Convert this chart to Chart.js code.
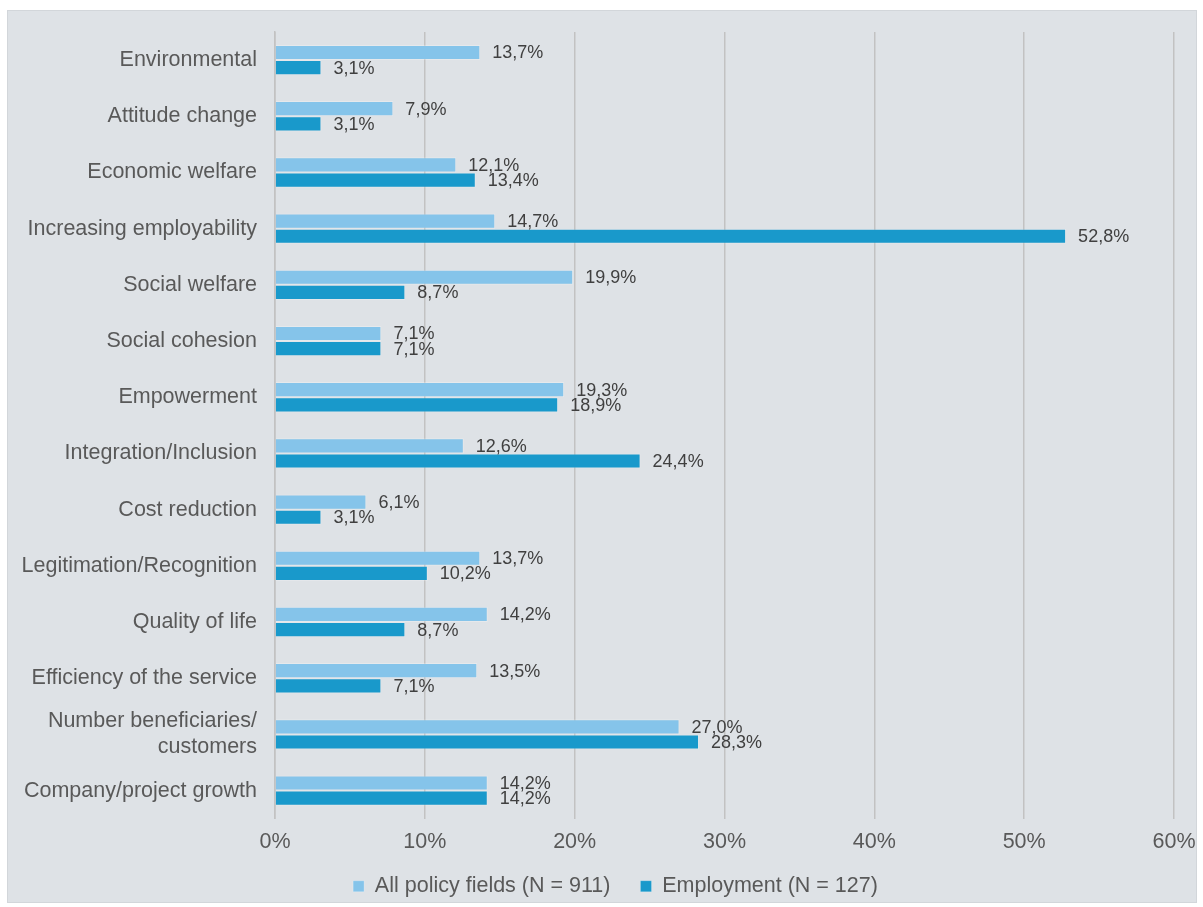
<!DOCTYPE html>
<html>
<head>
<meta charset="utf-8">
<script src="https://cdn.jsdelivr.net/npm/chart.js@4"></script>
<style>
  html, body { margin: 0; padding: 0; background: #ffffff; }
  #frame {
    position: absolute; left: 7px; top: 10px;
    width: 1190px; height: 893px;
    background: #dee2e6;
    box-shadow: inset 0 0 0 1px #d2d6da;
  }
  #chart { display: block; }
</style>
</head>
<body>
<div id="frame"><canvas id="chart" width="1190" height="893"></canvas></div>
<script>
const categories = [
  'Environmental',
  'Attitude change',
  'Economic welfare',
  'Increasing employability',
  'Social welfare',
  'Social cohesion',
  'Empowerment',
  'Integration/Inclusion',
  'Cost reduction',
  'Legitimation/Recognition',
  'Quality of life',
  'Efficiency of the service',
  ['Number beneficiaries/', 'customers'],
  'Company/project growth'
];
const allPolicyFields = [13.7, 7.9, 12.1, 14.7, 19.9, 7.1, 19.3, 12.6, 6.1, 13.7, 14.2, 13.5, 27.0, 14.2];
const employment      = [3.1, 3.1, 13.4, 52.8, 8.7, 7.1, 18.9, 24.4, 3.1, 10.2, 8.7, 7.1, 28.3, 14.2];
const seriesNames = ['All policy fields (N = 911)', 'Employment (N = 127)'];
const xTicks = [0, 10, 20, 30, 40, 50, 60];

const FONT = '"Liberation Sans", Arial, sans-serif';
const TEXT = '#595959';

const fmt = v => v.toFixed(1).replace('.', ',') + '%';

// Value labels to the right of each bar
const valueLabels = {
  id: 'valueLabels',
  afterDatasetsDraw(chart) {
    const ctx = chart.ctx;
    ctx.save();
    ctx.font = '18px ' + FONT;
    ctx.fillStyle = '#404040';
    ctx.textAlign = 'left';
    ctx.textBaseline = 'middle';
    chart.data.datasets.forEach((ds, i) => {
      const meta = chart.getDatasetMeta(i);
      meta.data.forEach((bar, j) => {
        ctx.fillText(fmt(ds.data[j]), bar.x + 12, bar.y + 1);
      });
    });
    ctx.restore();
  }
};

// Centre the legend under the plot area rather than the whole canvas
const legendShift = {
  id: 'legendShift',
  afterLayout(chart) {
    const lg = chart.legend;
    if (!lg) return;
    const dx = 21;
    lg.left += dx;
    lg.right += dx;
    if (lg.legendHitBoxes) lg.legendHitBoxes.forEach(b => { b.left += dx; });
  }
};

new Chart(document.getElementById('chart'), {
  type: 'bar',
  data: {
    labels: categories,
    datasets: [
      {
        label: seriesNames[0],
        data: allPolicyFields,
        backgroundColor: '#85c4ea',
        borderColor: 'rgba(255,255,255,0.25)',
        borderWidth: 1,
        barPercentage: 1,
        categoryPercentage: 0.54
      },
      {
        label: seriesNames[1],
        data: employment,
        backgroundColor: '#1999cb',
        borderColor: 'rgba(255,255,255,0.2)',
        borderWidth: 1,
        barPercentage: 1,
        categoryPercentage: 0.54
      }
    ]
  },
  options: {
    indexAxis: 'y',
    responsive: false,
    animation: false,
    devicePixelRatio: 1,
    layout: { padding: { left: 8, right: 23, top: 22, bottom: -4 } },
    scales: {
      x: {
        min: xTicks[0],
        max: xTicks[xTicks.length - 1],
        afterBuildTicks(scale) { scale.ticks = xTicks.map(v => ({ value: v })); },
        afterFit(scale) {
          scale.height -= 19;
          scale.paddingLeft = 0;
          scale.paddingRight = 0;
          // tick labels may hang below the trimmed axis box
          scale._computeLabelArea = () => undefined;
        },
        grid: { color: '#c2c2c2', lineWidth: 1.5, drawTicks: false },
        border: { display: false },
        ticks: {
          callback: v => v + '%',
          color: TEXT,
          font: { family: FONT, size: 21.5 },
          padding: 10
        }
      },
      y: {
        afterFit(scale) {
          scale.width = 260;
          scale.paddingTop = 0;
          scale.paddingBottom = 0;
        },
        grid: { display: false, drawTicks: false },
        border: { display: true, color: '#c2c2c2', width: 1.5 },
        ticks: {
          color: TEXT,
          font: { family: FONT, size: 21.5 },
          padding: 18
        }
      }
    },
    plugins: {
      legend: {
        position: 'bottom',
        labels: {
          boxWidth: 11,
          boxHeight: 11,
          color: TEXT,
          font: { family: FONT, size: 21.5 },
          padding: 30
        }
      },
      tooltip: { enabled: false }
    }
  },
  plugins: [valueLabels, legendShift]
});
</script>
</body>
</html>
